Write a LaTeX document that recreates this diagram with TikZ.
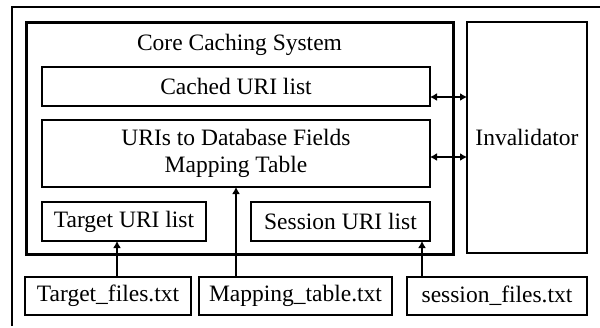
\documentclass[tikz,border=0pt]{standalone}
\usepackage{fontspec}
\setmainfont{Liberation Serif}
\usetikzlibrary{arrows.meta}
\begin{document}
\begin{tikzpicture}[x=1pt,y=-1pt,
  box/.style={draw,line width=1.1pt,anchor=north west,inner sep=0pt,outer sep=0pt,align=center,
    font=\fontsize{23.5}{26.5}\selectfont},
  corebox/.style={draw,line width=3pt,inner sep=0pt,outer sep=0pt},
  arr/.style={line width=2.6pt,-{Latex[length=7pt,width=8pt]}},
  darr/.style={line width=2.6pt,{Latex[length=7pt,width=8pt]}-{Latex[length=7pt,width=8pt]}},
  lbl/.style={font=\fontsize{23.5}{26.5}\selectfont,inner sep=0pt}]
\useasboundingbox (0,0) rectangle (600,327);
\draw[line width=1.1pt] (12,326) -- (12,7) -- (600,7);
\node[corebox,anchor=north west,minimum width=427pt,minimum height=232pt] (core) at (26,22) {};
\node[lbl] (coretitle) at (239.5,45) {Core Caching System};
\node[box,minimum width=388pt,minimum height=39pt] (cached) at (42,67) {Cached URI list};
\node[box,minimum width=388pt,minimum height=67pt] (map) at (42,120) {URIs to Database Fields\\Mapping Table};
\node[box,minimum width=164pt,minimum height=39pt] (tu) at (42,202) {Target URI list};
\node[box,minimum width=179pt,minimum height=39pt] (su) at (251,202) {Session URI list};
\node[box,minimum width=120pt,minimum height=231pt] (inv) at (467,22) {Invalidator};
\node[box,minimum width=166pt,minimum height=38pt] (tf) at (25,277) {Target\_files.txt};
\node[box,minimum width=193pt,minimum height=38pt] (mt) at (199,277) {Mapping\_table.txt};
\node[box,minimum width=180pt,minimum height=38pt] (sf) at (407,277) {session\_files.txt};
\coordinate (c1) at ([yshift=-10.5pt]cached.east);
\coordinate (c2) at ([yshift=-3.5pt]map.east);
\draw[arr] ([xshift=75pt]tu.south west |- tf.north) -- ([xshift=75pt]tu.south west);
\draw[arr] (map.south |- mt.north) -- (map.south);
\draw[arr] ([xshift=-8pt]su.south east |- sf.north) -- ([xshift=-8pt]su.south east);
\draw[darr] (c1) -- (inv.west |- c1);
\draw[darr] (c2) -- (inv.west |- c2);
\end{tikzpicture}
\end{document}
